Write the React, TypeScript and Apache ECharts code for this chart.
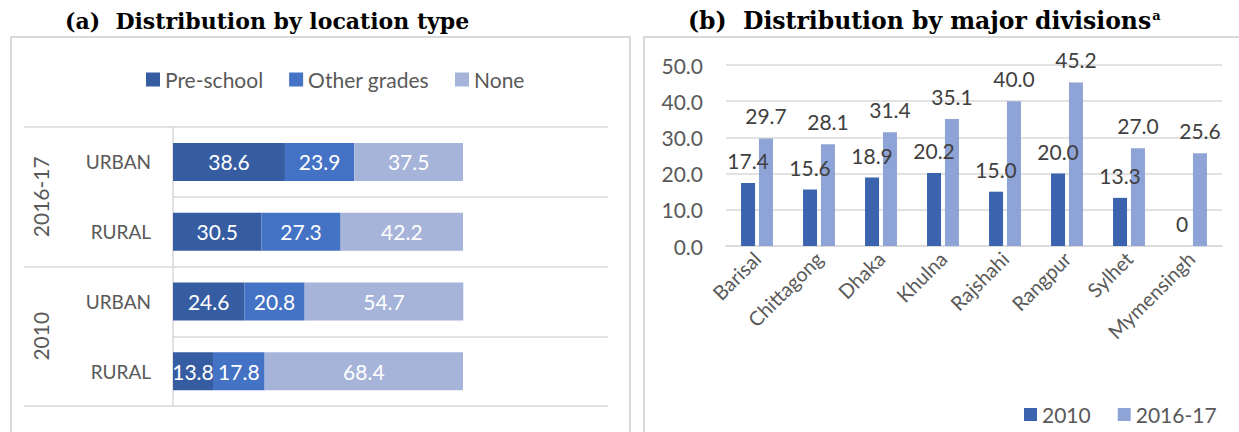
import React, { useEffect, useRef } from "react";
import * as echarts from "echarts";

const locCategories = ["URBAN", "RURAL", "URBAN", "RURAL"];
const locGroups = ["2016-17", "2010"];
const preSchool = [38.6, 30.5, 24.6, 13.8];
const otherGrades = [23.9, 27.3, 20.8, 17.8];
const noneVals = [37.5, 42.2, 54.7, 68.4];

const divisions = ["Barisal", "Chittagong", "Dhaka", "Khulna", "Rajshahi", "Rangpur", "Sylhet", "Mymensingh"];
const div2010 = [17.4, 15.6, 18.9, 20.2, 15.0, 20.0, 13.3, 0];
const div2016 = [29.7, 28.1, 31.4, 35.1, 40.0, 45.2, 27.0, 25.6];

const FONT = "Lato, 'Open Sans', sans-serif";
const SERIF = "'DejaVu Serif', 'Liberation Serif', serif";
const GRID_LINE = "#d9d9d9";
const AXIS_TEXT = "#595959";

export default function App() {
  const ref = useRef<HTMLDivElement>(null);
  useEffect(() => {
    document.body.style.margin = "0";
    if (!ref.current) return;
    const chart = echarts.init(ref.current, undefined, { renderer: "svg" });
    const barLabel = {
      show: true,
      position: "inside",
      color: "#ffffff",
      fontSize: 21,
      fontFamily: FONT,
      formatter: (p: any) => Number(p.value).toFixed(1),
    };
    const topLabel = {
      show: true,
      position: "top",
      distance: 12,
      color: "#404040",
      fontSize: 21,
      fontFamily: FONT,
      formatter: (p: any) => (Number(p.value) === 0 ? "0" : Number(p.value).toFixed(1)),
    };
    chart.setOption({
      animation: false,
      backgroundColor: "#ffffff",
      textStyle: { fontFamily: FONT },
      title: [
        {
          text: "(a)  Distribution by location type",
          left: 60,
          top: 5,
          textStyle: { fontFamily: SERIF, fontWeight: "bold", fontSize: 22, color: "#000000" },
        },
        {
          text: "(b)  Distribution by major divisions{sup|a}",
          left: 683,
          top: 4,
          textStyle: {
            fontFamily: SERIF,
            fontWeight: "bold",
            fontSize: 23.5,
            color: "#000000",
            rich: {
              sup: { fontFamily: SERIF, fontWeight: "bold", fontSize: 13, color: "#000000", verticalAlign: "top", padding: [0, 0, 8, 1] },
            },
          },
        },
      ],
      graphic: [
        { type: "rect", shape: { x: 11, y: 37, width: 619, height: 420 }, style: { fill: "none", stroke: GRID_LINE, lineWidth: 2 }, silent: true },
        { type: "rect", shape: { x: 644, y: 37, width: 620, height: 420 }, style: { fill: "none", stroke: GRID_LINE, lineWidth: 2 }, silent: true },
      ],
      legend: [
        {
          data: ["Pre-school", "Other grades", "None"],
          left: 141,
          top: 64,
          itemWidth: 14,
          itemHeight: 14,
          itemGap: 26,
          icon: "rect",
          textStyle: { fontSize: 21, color: AXIS_TEXT, fontFamily: FONT },
        },
        {
          data: ["2010", "2016-17"],
          left: 1019,
          top: 399,
          itemWidth: 13,
          itemHeight: 13,
          itemGap: 27,
          icon: "rect",
          textStyle: { fontSize: 21, color: AXIS_TEXT, fontFamily: FONT },
        },
      ],
      grid: [
        { left: 173, right: 631, top: 127, bottom: 26 },
        { left: 726, right: 17, top: 65, bottom: 186 },
      ],
      xAxis: [
        { type: "value", gridIndex: 0, min: 0, max: 150, show: false },
        {
          type: "category",
          gridIndex: 1,
          data: divisions,
          axisLine: { show: true, lineStyle: { color: GRID_LINE, width: 1.5 } },
          axisTick: { show: false },
          axisLabel: { interval: 0, rotate: 45, margin: 9, fontSize: 20, color: AXIS_TEXT, fontFamily: FONT },
        },
      ],
      yAxis: [
        {
          type: "category",
          gridIndex: 0,
          inverse: true,
          data: locCategories,
          axisLine: { show: true, lineStyle: { color: GRID_LINE, width: 1.5 } },
          axisTick: { show: false },
          splitLine: { show: true, lineStyle: { color: GRID_LINE, width: 1.5 } },
          axisLabel: { margin: 22, fontSize: 19, color: AXIS_TEXT, fontFamily: FONT },
        },
        {
          type: "category",
          gridIndex: 0,
          inverse: true,
          position: "left",
          data: locGroups,
          axisLine: { show: false },
          axisTick: { show: true, length: 149, lineStyle: { color: GRID_LINE, width: 1.5 } },
          splitLine: { show: false },
          axisLabel: { rotate: 90, margin: 122, fontSize: 21, color: AXIS_TEXT, fontFamily: FONT },
        },
        {
          type: "value",
          gridIndex: 1,
          min: 0,
          max: 50,
          interval: 10,
          axisLine: { show: false },
          axisTick: { show: false },
          splitLine: { show: true, lineStyle: { color: GRID_LINE, width: 1.5 } },
          axisLabel: { margin: 23, fontSize: 21, color: AXIS_TEXT, fontFamily: FONT, formatter: (v: number) => v.toFixed(1) },
        },
      ],
      series: [
        { name: "Pre-school", type: "bar", stack: "loc", xAxisIndex: 0, yAxisIndex: 0, barWidth: 38, data: preSchool, itemStyle: { color: "#365DA2" }, label: barLabel },
        { name: "Other grades", type: "bar", stack: "loc", xAxisIndex: 0, yAxisIndex: 0, barWidth: 38, data: otherGrades, itemStyle: { color: "#4472C4" }, label: barLabel },
        { name: "None", type: "bar", stack: "loc", xAxisIndex: 0, yAxisIndex: 0, barWidth: 38, data: noneVals, itemStyle: { color: "#A6B4DA" }, label: barLabel },
        { name: "2010", type: "bar", xAxisIndex: 1, yAxisIndex: 2, barWidth: 14, barGap: "28%", data: div2010, itemStyle: { color: "#3C64AE" }, label: topLabel },
        { name: "2016-17", type: "bar", xAxisIndex: 1, yAxisIndex: 2, barWidth: 14, barGap: "28%", data: div2016, itemStyle: { color: "#8FA4D6" }, label: topLabel },
      ],
    });
    return () => chart.dispose();
  }, []);
  return <div ref={ref} style={{ width: 1239, height: 432 }} />;
}
